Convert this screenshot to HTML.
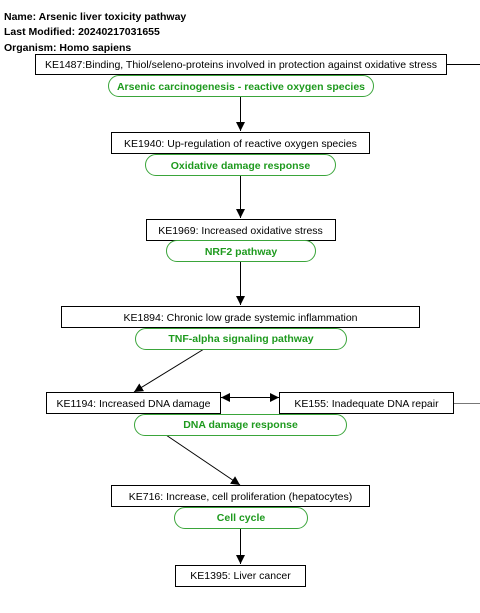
<!DOCTYPE html>
<html><head><meta charset="utf-8"><style>
html,body{margin:0;padding:0;background:#fff;}
svg{display:block;font-family:"Liberation Sans",sans-serif;}
</style></head><body>
<svg width="480" height="613" viewBox="0 0 480 613" xmlns="http://www.w3.org/2000/svg">
<defs><marker id="a" viewBox="0 0 10 10" refX="10" refY="5" markerWidth="9" markerHeight="9" markerUnits="userSpaceOnUse" orient="auto"><path d="M0,0L10,5L0,10z" fill="#000"/></marker>
<marker id="b" viewBox="0 0 10 10" refX="0" refY="5" markerWidth="9" markerHeight="9" markerUnits="userSpaceOnUse" orient="auto"><path d="M10,0L0,5L10,10z" fill="#000"/></marker></defs>
<g font-size="10.5" font-weight="bold" fill="#000">
<text x="4" y="20">Name: Arsenic liver toxicity pathway</text>
<text x="4" y="35">Last Modified: 20240217031655</text>
<text x="4" y="51">Organism: Homo sapiens</text>
</g>
<g stroke="#000" stroke-width="1">
<line x1="446" y1="64.5" x2="480" y2="64.5"/>
<line x1="453" y1="403.5" x2="480" y2="403.5" stroke="#777"/>
<line x1="240.5" y1="96" x2="240.5" y2="131" marker-end="url(#a)"/>
<line x1="240.5" y1="175" x2="240.5" y2="218" marker-end="url(#a)"/>
<line x1="240.5" y1="262" x2="240.5" y2="305" marker-end="url(#a)"/>
<line x1="204" y1="349" x2="134" y2="392" marker-end="url(#a)"/>
<line x1="221" y1="397.5" x2="279" y2="397.5" marker-start="url(#b)" marker-end="url(#a)"/>
<line x1="166" y1="435" x2="240" y2="485" marker-end="url(#a)"/>
<line x1="240.5" y1="528" x2="240.5" y2="564" marker-end="url(#a)"/>
</g>
<g fill="#fff" stroke="#000">
<rect x="35.5" y="54.5" width="411" height="20"/>
<rect x="111.5" y="132.5" width="258" height="21"/>
<rect x="146.5" y="219.5" width="189" height="21"/>
<rect x="61.5" y="306.5" width="358" height="21"/>
<rect x="46.5" y="392.5" width="174" height="21"/>
<rect x="279.5" y="392.5" width="174" height="21"/>
<rect x="111.5" y="485.5" width="258" height="21"/>
<rect x="175.5" y="565.5" width="130" height="21"/>
</g>
<g fill="#fff" stroke="#3aa53a">
<rect x="108.5" y="75.5" width="265" height="21" rx="10.5"/>
<rect x="145.5" y="154.5" width="190" height="21" rx="10.5"/>
<rect x="166.5" y="240.5" width="149" height="21" rx="10.5"/>
<rect x="135.5" y="328.5" width="211" height="21" rx="10.5"/>
<rect x="134.5" y="414.5" width="212" height="21" rx="10.5"/>
<rect x="174.5" y="507.5" width="133" height="21" rx="10.5"/>
</g>
<g font-size="10.5" text-anchor="middle" fill="#000">
<text x="241" y="68">KE1487:Binding, Thiol/seleno-proteins involved in protection against oxidative stress</text>
<text x="240.5" y="147">KE1940: Up-regulation of reactive oxygen species</text>
<text x="240.5" y="234">KE1969: Increased oxidative stress</text>
<text x="240.5" y="321">KE1894: Chronic low grade systemic inflammation</text>
<text x="133.5" y="407">KE1194: Increased DNA damage</text>
<text x="366.5" y="407">KE155: Inadequate DNA repair</text>
<text x="240.5" y="500">KE716: Increase, cell proliferation (hepatocytes)</text>
<text x="240.5" y="579">KE1395: Liver cancer</text>
</g>
<g font-size="10.5" font-weight="bold" text-anchor="middle" fill="#1e9a1e">
<text x="241" y="90">Arsenic carcinogenesis - reactive oxygen species</text>
<text x="240.5" y="169">Oxidative damage response</text>
<text x="241" y="255">NRF2 pathway</text>
<text x="241" y="342">TNF-alpha signaling pathway</text>
<text x="240.5" y="428">DNA damage response</text>
<text x="241" y="521">Cell cycle</text>
</g>
</svg>
</body></html>
